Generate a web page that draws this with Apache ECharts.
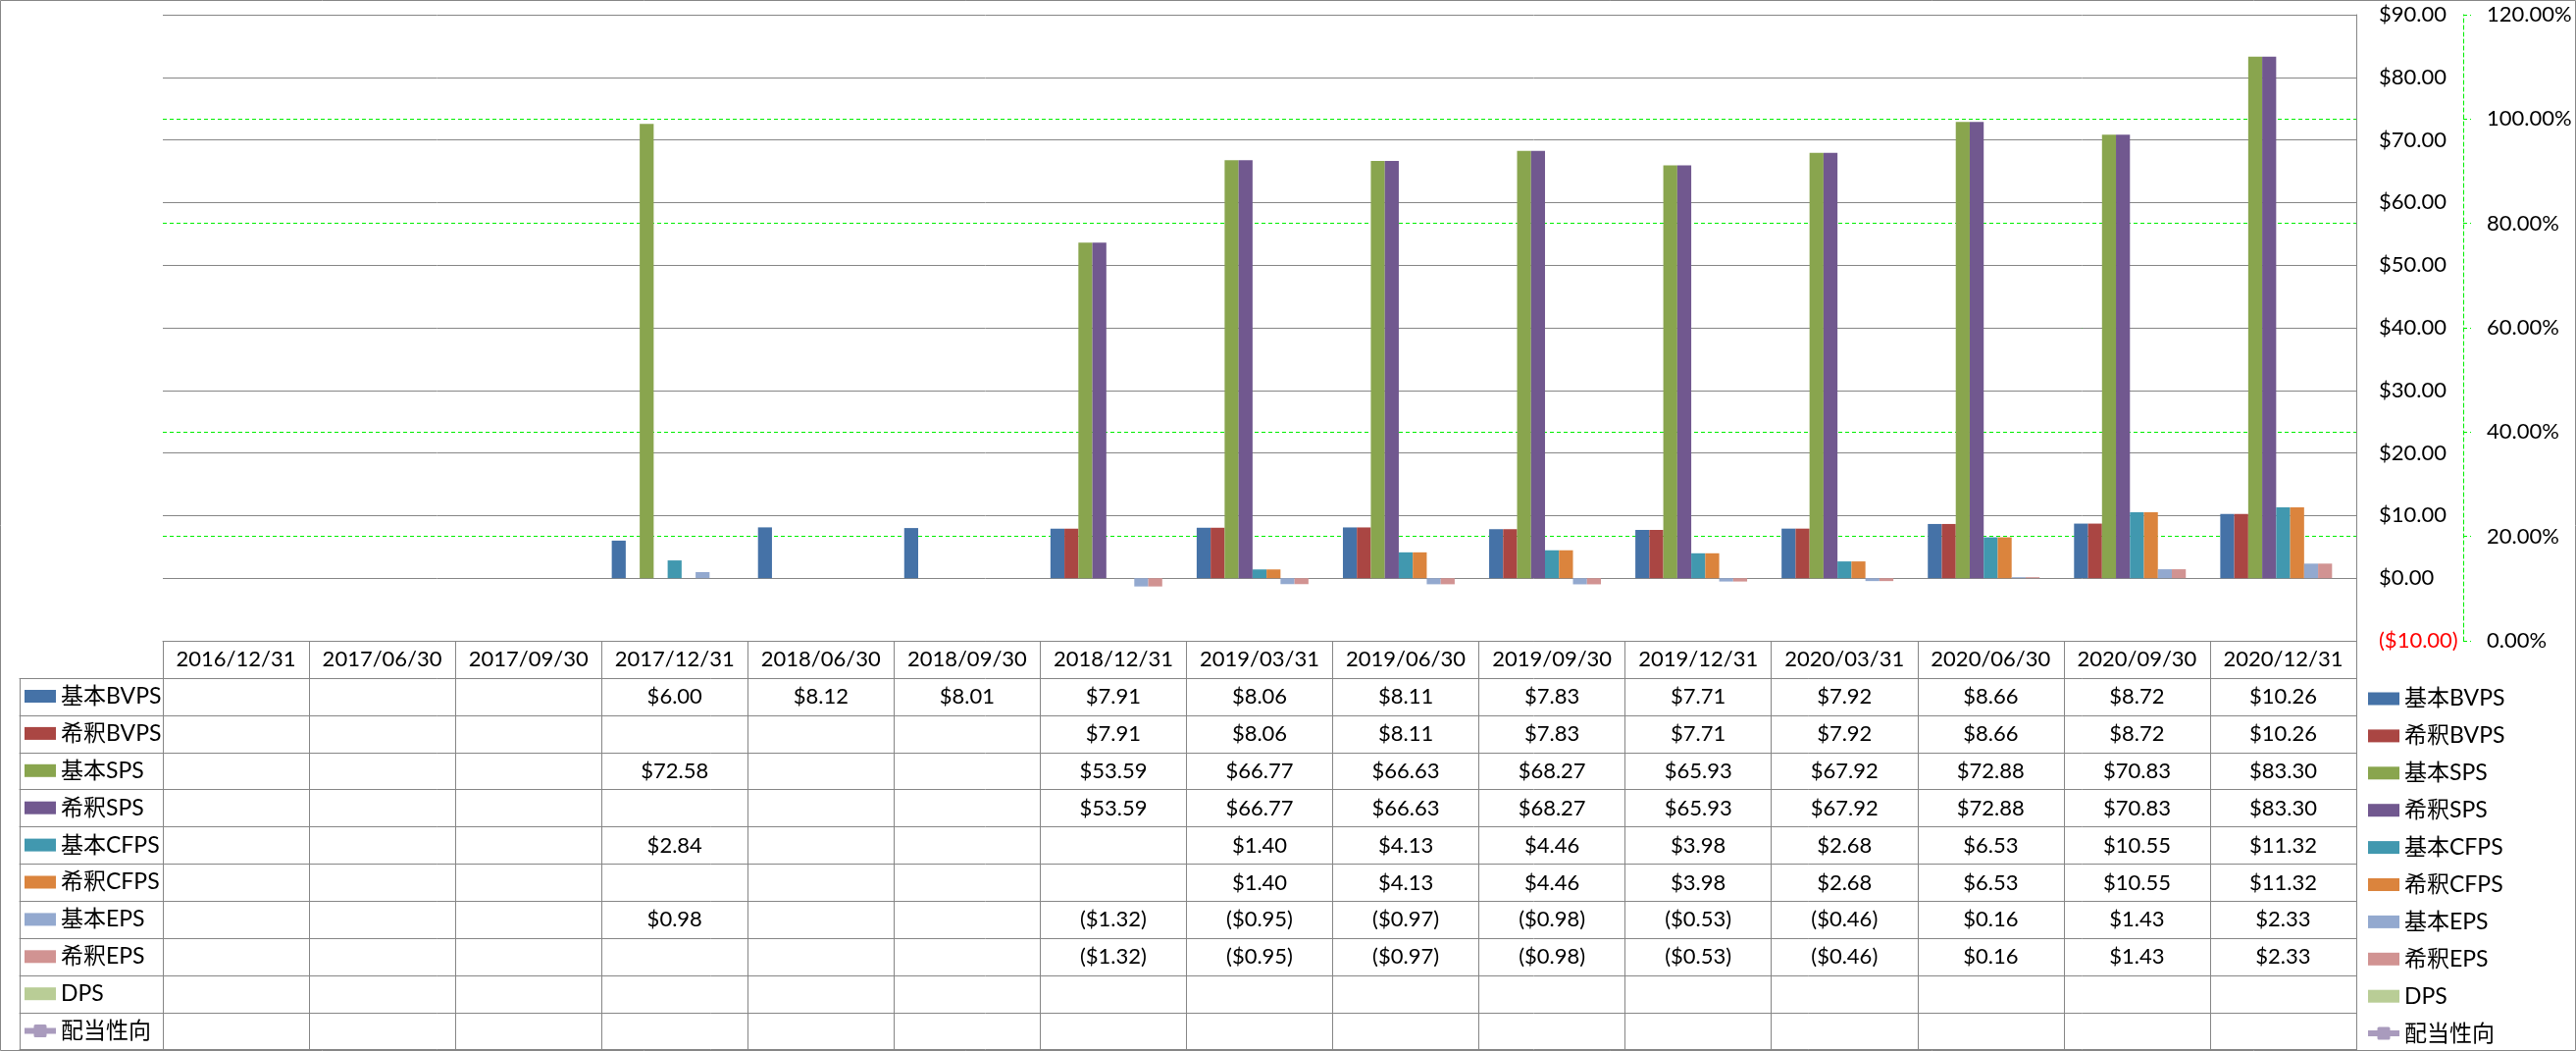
<!DOCTYPE html>
<html><head><meta charset="utf-8">
<script src="https://cdn.jsdelivr.net/npm/echarts@6/dist/echarts.min.js"></script>
<style>html,body{margin:0;padding:0;background:#fff}#c{width:2626px;height:1071px}</style>
</head><body><div id="c"></div>
<script>
// ---------- data ----------
const categories = ['2016/12/31','2017/06/30','2017/09/30','2017/12/31','2018/06/30','2018/09/30','2018/12/31','2019/03/31','2019/06/30','2019/09/30','2019/12/31','2020/03/31','2020/06/30','2020/09/30','2020/12/31'];
const seriesNames = ['基本BVPS','希釈BVPS','基本SPS','希釈SPS','基本CFPS','希釈CFPS','基本EPS','希釈EPS','DPS','配当性向'];
const basicBVPS   = [null,null,null,6.00,8.12,8.01,7.91,8.06,8.11,7.83,7.71,7.92,8.66,8.72,10.26];
const dilutedBVPS = [null,null,null,null,null,null,7.91,8.06,8.11,7.83,7.71,7.92,8.66,8.72,10.26];
const basicSPS    = [null,null,null,72.58,null,null,53.59,66.77,66.63,68.27,65.93,67.92,72.88,70.83,83.30];
const dilutedSPS  = [null,null,null,null,null,null,53.59,66.77,66.63,68.27,65.93,67.92,72.88,70.83,83.30];
const basicCFPS   = [null,null,null,2.84,null,null,null,1.40,4.13,4.46,3.98,2.68,6.53,10.55,11.32];
const dilutedCFPS = [null,null,null,null,null,null,null,1.40,4.13,4.46,3.98,2.68,6.53,10.55,11.32];
const basicEPS    = [null,null,null,0.98,null,null,-1.32,-0.95,-0.97,-0.98,-0.53,-0.46,0.16,1.43,2.33];
const dilutedEPS  = [null,null,null,null,null,null,-1.32,-0.95,-0.97,-0.98,-0.53,-0.46,0.16,1.43,2.33];
const dps         = [null,null,null,null,null,null,null,null,null,null,null,null,null,null,null];
const payoutRatio = [null,null,null,null,null,null,null,null,null,null,null,null,null,null,null];
const dollarAxisRange  = {min: -10, max: 90, interval: 10};
const percentAxisRange = {min: 0, max: 1.2, interval: 0.2};

// ---------- style / layout ----------
const rows = [basicBVPS, dilutedBVPS, basicSPS, dilutedSPS, basicCFPS, dilutedCFPS, basicEPS, dilutedEPS, dps, payoutRatio];
const colors = ['#4572A7','#AA4643','#89A54E','#71588F','#4198AF','#DB843D','#93A9CF','#D19392','#B9CD96','#A99BBD'];
const FONT = 'Lato, "Noto Sans CJK JP", sans-serif';
const FS = 22;
const LEG_FS = 23;
const GRAY = '#868686';
const GREEN = '#00EE00';
const GL = 166, GT = 15, GW = 2236, GH = 638;
const HEADER_H = 38, ROW_H = 37.9;
const LEG_L = 20, LEG_W = 146;
const LEG_TEXT_H = 30;
// legend icon for the line-with-marker series (thick line + rounded square marker), drawn in a 32x13 box
const LINE_MARKER_ICON = 'path://M0,3.5H9.5V1.5Q9.5,0,11,0H21Q22.5,0,22.5,1.5V3.5H32V9.5H22.5V11.5Q22.5,13,21,13H11Q9.5,13,9.5,11.5V9.5H0Z';

function money(v) {
  if (v === null || v === undefined) return '';
  return v < 0 ? '($' + (-v).toFixed(2) + ')' : '$' + v.toFixed(2);
}

const xAxes = [];
// header row (main category axis)
xAxes.push({
  type: 'category', gridIndex: 0, data: categories, position: 'bottom', offset: 0,
  axisLine: {onZero: false, lineStyle: {color: GRAY, width: 1}},
  axisTick: {show: true, interval: 0, length: HEADER_H, lineStyle: {color: GRAY, width: 1}},
  axisLabel: {interval: 0, margin: HEADER_H / 2, verticalAlign: 'middle', fontSize: FS, color: '#000', fontFamily: FONT},
  splitLine: {show: false}, z: 3
});
// data table rows
rows.forEach((r, i) => {
  xAxes.push({
    type: 'category', gridIndex: 0, data: categories, position: 'bottom', offset: HEADER_H + ROW_H * i,
    axisLine: {onZero: false, lineStyle: {color: GRAY, width: 1}},
    axisTick: {show: true, interval: 0, length: ROW_H + 0.5, lineStyle: {color: GRAY, width: 1}},
    axisLabel: {interval: 0, margin: ROW_H / 2, verticalAlign: 'middle', fontSize: FS, color: '#000', fontFamily: FONT,
      formatter: (val, idx) => money(r[idx])},
    splitLine: {show: false}
  });
});
// bottom border of table
xAxes.push({
  type: 'category', gridIndex: 0, data: categories, position: 'bottom', offset: HEADER_H + ROW_H * rows.length - 0.5,
  axisLine: {onZero: false, lineStyle: {color: GRAY, width: 1}},
  axisTick: {show: false}, axisLabel: {show: false}, splitLine: {show: false}
});
// legend column borders (grid 1)
rows.forEach((r, i) => {
  xAxes.push({
    type: 'category', gridIndex: 1, data: [''], position: 'bottom', offset: HEADER_H + ROW_H * i,
    axisLine: {onZero: false, lineStyle: {color: GRAY, width: 1}},
    axisTick: {show: true, interval: 0, length: ROW_H + 0.5, lineStyle: {color: GRAY, width: 1}},
    axisLabel: {show: false}, splitLine: {show: false}
  });
});
xAxes.push({
  type: 'category', gridIndex: 1, data: [''], position: 'bottom', offset: HEADER_H + ROW_H * rows.length - 0.5,
  axisLine: {onZero: false, lineStyle: {color: GRAY, width: 1}},
  axisTick: {show: false}, axisLabel: {show: false}, splitLine: {show: false}
});

const series = [];
for (let i = 0; i < 9; i++) {
  series.push({
    name: seriesNames[i], type: 'bar', xAxisIndex: 0, yAxisIndex: 0, data: rows[i],
    itemStyle: {color: colors[i]}, barGap: '0%', barCategoryGap: '14%', silent: true, z: 4
  });
}
series.push({
  name: seriesNames[9], type: 'line', xAxisIndex: 0, yAxisIndex: 1, data: payoutRatio,
  itemStyle: {color: colors[9]}, lineStyle: {color: colors[9], width: 7},
  symbol: 'rect', symbolSize: 14, silent: true, z: 5
});

const legendData = seriesNames.map((n, i) => i < 9 ? {name: n, icon: 'rect'} : {name: n, icon: LINE_MARKER_ICON});
const legendBase = {
  orient: 'vertical', itemGap: ROW_H - LEG_TEXT_H, padding: 0, itemWidth: 32, itemHeight: 13, selectedMode: false,
  textStyle: {fontSize: LEG_FS, lineHeight: LEG_TEXT_H, color: '#000', fontFamily: FONT},
  data: legendData
};

const option = {
  animation: false,
  backgroundColor: '#fff',
  textStyle: {fontFamily: FONT},
  grid: [
    {left: GL, top: GT, width: GW, height: GH, containLabel: false},
    {left: LEG_L, top: GT, width: LEG_W, height: GH, containLabel: false}
  ],
  xAxis: xAxes,
  yAxis: [
    {
      type: 'value', gridIndex: 0, position: 'right', z: 2,
      min: dollarAxisRange.min, max: dollarAxisRange.max, interval: dollarAxisRange.interval,
      axisLine: {show: true, lineStyle: {color: GRAY, width: 1}},
      axisTick: {show: false},
      axisLabel: {margin: 23, fontSize: FS, fontFamily: FONT,
        formatter: v => money(v),
        color: v => (Number(v) < 0 ? '#FF0000' : '#000')},
      splitLine: {show: true, lineStyle: {color: GRAY, width: 1}}
    },
    {
      type: 'value', gridIndex: 0, position: 'right', offset: 109, z: 1,
      min: percentAxisRange.min, max: percentAxisRange.max, interval: percentAxisRange.interval,
      axisLine: {show: true, lineStyle: {color: GREEN, width: 1, type: [4, 3]}},
      axisTick: {show: true, length: 8, inside: false, lineStyle: {color: GREEN, width: 1, type: [4, 3]}},
      axisLabel: {margin: 24, fontSize: FS, color: '#000', fontFamily: FONT,
        formatter: v => (v * 100).toFixed(2) + '%'},
      splitLine: {show: true, showMinLine: false, showMaxLine: false, lineStyle: {color: GREEN, width: 1, type: [4, 3]}}
    },
    {type: 'value', gridIndex: 1, show: false, min: 0, max: 1}
  ],
  legend: [
    Object.assign({}, legendBase, {left: 25, top: 709.5 - LEG_TEXT_H / 2}),
    Object.assign({}, legendBase, {left: 2414, top: 712 - LEG_TEXT_H / 2})
  ],
  graphic: [
    {type: 'rect', silent: true, z: 100,
      shape: {x: 0.5, y: 0.5, width: 2625, height: 1070},
      style: {fill: null, stroke: GRAY, lineWidth: 1}}
  ],
  series: series
};

const chart = echarts.init(document.getElementById('c'), null, {renderer: 'canvas'});
chart.setOption(option);
</script>
</body></html>
